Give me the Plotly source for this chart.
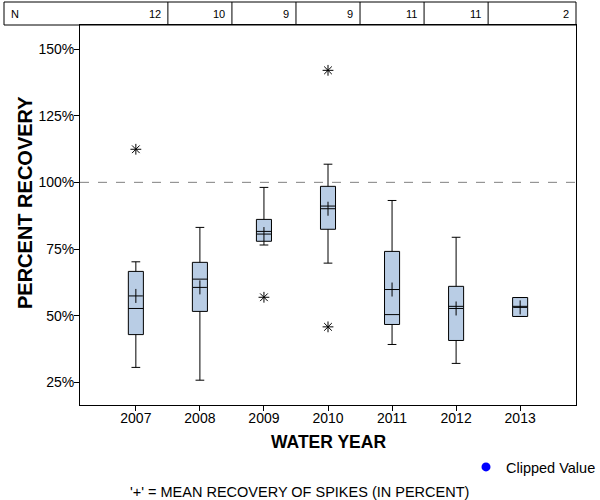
import plotly.graph_objects as go

years = ["2007", "2008", "2009", "2010", "2011", "2012", "2013"]
n_counts = [12, 10, 9, 9, 11, 11, 2]
q1 = [42.9, 51.6, 77.9, 82.4, 46.7, 40.7, 49.7]
median = [52.7, 63.7, 81.6, 91.1, 50.4, 53.5, 53.5]
q3 = [66.6, 70.0, 86.1, 98.5, 74.1, 61.0, 56.8]
lower_whisker = [30.6, 25.8, 76.5, 69.7, 39.2, 32.1, 49.7]
upper_whisker = [70.2, 83.1, 98.1, 106.8, 93.2, 79.4, 56.8]
means = [57.4, 60.6, 80.6, 90.1, 59.8, 52.7, 53.1]
outlier_year_idx = [0, 2, 3, 3]
outlier_values = [112.4, 56.9, 142.0, 45.8]
y_ticks = [25, 50, 75, 100, 125, 150]
y_tick_labels = ["25%", "50%", "75%", "100%", "125%", "150%"]
reference_line = 100

FONT = "Liberation Sans, Arial, sans-serif"
xpos = list(range(len(years)))
XMIN, XMAX = -0.872, len(years) - 1 + 0.872

fig = go.Figure()

fig.add_trace(go.Box(
    x=xpos, q1=q1, median=median, q3=q3,
    lowerfence=lower_whisker, upperfence=upper_whisker,
    width=0.235, whiskerwidth=0.58,
    fillcolor="#B9CDE5", line=dict(color="black", width=1),
    boxpoints=False, showlegend=False, hoverinfo="skip",
))

fig.add_trace(go.Scatter(
    x=xpos, y=means, mode="markers", showlegend=False,
    marker=dict(symbol="cross-thin-open", size=10, color="black",
                line=dict(color="black", width=1)),
))

fig.add_trace(go.Scatter(
    x=[xpos[i] for i in outlier_year_idx], y=outlier_values, mode="markers",
    showlegend=False,
    marker=dict(symbol="asterisk-open", size=9, color="black",
                line=dict(color="black", width=1)),
))

fig.add_trace(go.Scatter(
    x=[None], y=[None], mode="markers", name="Clipped Value",
    marker=dict(symbol="circle", size=9, color="blue"),
))

# reference line
fig.add_shape(type="line", xref="paper", yref="y", x0=0, x1=1,
              y0=reference_line, y1=reference_line,
              line=dict(color="#808080", width=1, dash="dash"), layer="below")

# N table at top
L, R, T, B = 80, 24, 25, 95
plot_w = 600 - L - R
plot_h = 500 - T - B
def px_x(px):
    return (px - L) / plot_w
def px_y(py):
    return (500 - B - py) / plot_h

fig.add_shape(type="rect", xref="paper", yref="paper",
              x0=px_x(4), x1=1, y0=1, y1=px_y(2),
              line=dict(color="black", width=1), fillcolor="rgba(0,0,0,0)")
for i in range(len(years) - 1):
    fig.add_shape(type="line", xref="x", yref="paper",
                  x0=i + 0.5, x1=i + 0.5, y0=1, y1=px_y(2),
                  line=dict(color="black", width=1))
fig.add_annotation(text="N", xref="paper", yref="paper", x=px_x(9), y=px_y(14),
                   xanchor="left", yanchor="middle", showarrow=False,
                   font=dict(family=FONT, size=11, color="black"))
for i, n in enumerate(n_counts):
    xr = i + 0.5 if i < len(years) - 1 else XMAX
    fig.add_annotation(text=str(n), xref="x", yref="paper", x=xr, y=px_y(14),
                       xanchor="right", yanchor="middle", xshift=-5, showarrow=False,
                       font=dict(family=FONT, size=11, color="black"))

# titles
fig.add_annotation(text="<b>PERCENT RECOVERY</b>", xref="paper", yref="paper",
                   x=px_x(25), y=px_y(203), textangle=-90, showarrow=False,
                   xanchor="center", yanchor="middle",
                   font=dict(family=FONT, size=20, color="black"))
fig.add_annotation(text="<b>WATER YEAR</b>", xref="paper", yref="paper",
                   x=px_x(328), y=px_y(442), showarrow=False,
                   xanchor="center", yanchor="middle",
                   font=dict(family=FONT, size=17.5, color="black"))
fig.add_annotation(text="'+' = MEAN RECOVERY OF SPIKES (IN PERCENT)", xref="paper", yref="paper",
                   x=px_x(299), y=px_y(492), showarrow=False,
                   xanchor="center", yanchor="middle",
                   font=dict(family=FONT, size=14.5, color="black"))

fig.update_layout(
    width=600, height=500,
    margin=dict(l=L, r=R, t=T, b=B, autoexpand=False),
    paper_bgcolor="white", plot_bgcolor="white",
    font=dict(family=FONT, size=14, color="black"),
    legend=dict(x=px_x(466), y=px_y(451), xanchor="left", yanchor="top",
                bgcolor="rgba(0,0,0,0)", font=dict(family=FONT, size=14.5),
                itemwidth=30),
    xaxis=dict(range=[XMIN, XMAX], tickvals=xpos, ticktext=years,
               showgrid=False, zeroline=False, showline=True, linecolor="black",
               linewidth=1, mirror=True, ticks="outside", ticklen=5,
               tickcolor="black", tickfont=dict(family=FONT, size=14),
               ticklabelstandoff=-5),
    yaxis=dict(range=[16.5, 159], tickvals=y_ticks, ticktext=y_tick_labels,
               showgrid=False, zeroline=False, showline=True, linecolor="black",
               linewidth=1, mirror=True, ticks="outside", ticklen=5,
               tickcolor="black", tickfont=dict(family=FONT, size=14),
               ticklabelstandoff=-3),
)

fig.write_html("out.html")
